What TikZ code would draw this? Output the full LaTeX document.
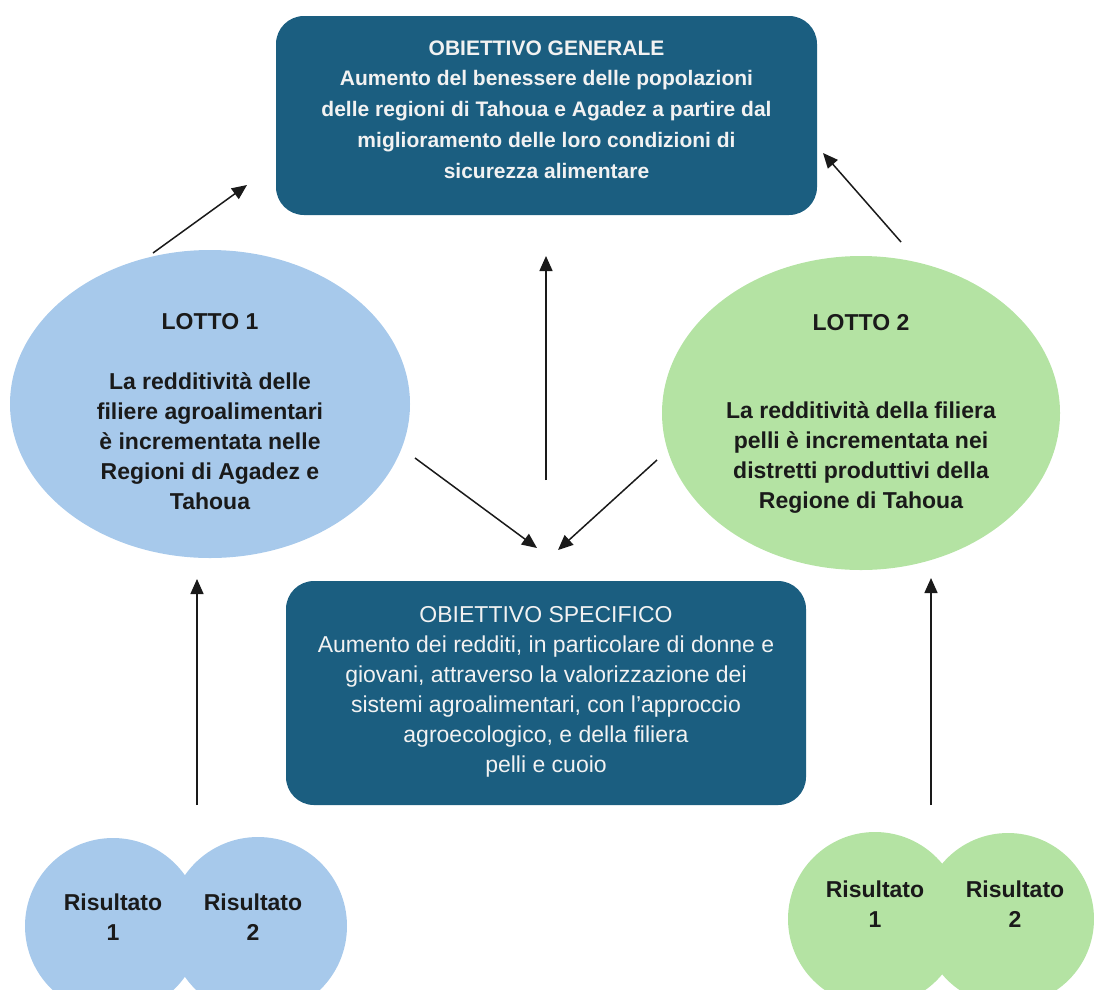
\documentclass[tikz,border=0pt]{standalone}
\usepackage{fontspec}
\setmainfont{Liberation Sans}
\usetikzlibrary{shapes.geometric,arrows.meta}
\definecolor{teal}{HTML}{1B5E80}
\definecolor{lblue}{HTML}{A7C9EB}
\definecolor{lgreen}{HTML}{B4E3A3}
\definecolor{ink}{HTML}{1A1A1A}
\tikzset{
  darkbox/.style={fill=teal, rounded corners=28pt, inner sep=0pt},
  blob/.style={ellipse, inner sep=0pt, draw=none},
  txt/.style={align=center, inner sep=0pt, text=ink, font=\bfseries\fontsize{23}{30}\selectfont},
  wtxt/.style={align=center, inner sep=0pt, text=white!95!black},
  arr/.style={line width=1.5pt, draw=ink, -{Triangle[length=15pt,width=13pt]}}
}
\begin{document}
\begin{tikzpicture}[x=1pt,y=-1pt]
\useasboundingbox (0,0) rectangle (1094,989);
\clip (0,0) rectangle (1094,989);
% top box
\node[darkbox, minimum width=541pt, minimum height=199pt] (og) at (546.5,115.5) {};
\node[wtxt, font=\bfseries\fontsize{21}{30.8}\selectfont] (ogt) at (546.5,109.5)
  {OBIETTIVO GENERALE\\Aumento del benessere delle popolazioni\\delle regioni di Tahoua e Agadez a partire dal\\miglioramento delle loro condizioni di\\sicurezza alimentare};
% ellipses
\node[blob, fill=lblue, minimum width=400pt, minimum height=308pt] (l1) at (210,404) {};
\node[txt] (l1t) at (210,412) {LOTTO 1\\[30pt]La redditività delle\\filiere agroalimentari\\è incrementata nelle\\Regioni di Agadez e\\Tahoua};
\node[blob, fill=lgreen, minimum width=398pt, minimum height=314pt] (l2) at (861,413) {};
\node[txt] (l2t) at (861,414) {LOTTO 2\\[58pt]La redditività della filiera\\pelli è incrementata nei\\distretti produttivi della\\Regione di Tahoua};
% bottom box
\node[darkbox, minimum width=520pt, minimum height=224pt] (os) at (546,693) {};
\node[wtxt, font=\fontsize{23}{30}\selectfont] (ost) at (546,692)
  {OBIETTIVO SPECIFICO\\Aumento dei redditi, in particolare di donne e\\giovani, attraverso la valorizzazione dei\\sistemi agroalimentari, con l’approccio\\agroecologico, e della filiera\\pelli e cuoio};
% results
\node[circle, fill=lblue, minimum size=176pt, inner sep=0pt] (r11) at (113,926) {};
\node[circle, fill=lblue, minimum size=178pt, inner sep=0pt] (r12) at (258,926) {};
\node[txt] (r11t) at (113,917) {Risultato\\1};
\node[txt] (r12t) at (253,917) {Risultato\\2};
\node[circle, fill=lgreen, minimum size=174pt, inner sep=0pt] (r21) at (875,919) {};
\node[circle, fill=lgreen, minimum size=172pt, inner sep=0pt] (r22) at (1008,919) {};
\node[txt] (r21t) at (875,904) {Risultato\\1};
\node[txt] (r22t) at (1015,904) {Risultato\\2};
% arrow endpoints
\coordinate (a1s) at (153,253); \coordinate (a1e) at (247,185);
\coordinate (a2s) at (901,242); \coordinate (a2e) at (823,153);
\coordinate (a3s) at (546,480); \coordinate (a3e) at (546,256);
\coordinate (a4s) at (415,458); \coordinate (a4e) at (537,548);
\coordinate (a5s) at (657,460); \coordinate (a5e) at (558,550);
\coordinate (a6s) at (197,805); \coordinate (a6e) at (197,579);
\coordinate (a7s) at (931,805); \coordinate (a7e) at (931,578);
\draw[arr] (a1s) -- (a1e);
\draw[arr] (a2s) -- (a2e);
\draw[arr] (a3s) -- (a3e);
\draw[arr] (a4s) -- (a4e);
\draw[arr] (a5s) -- (a5e);
\draw[arr] (a6s) -- (a6e);
\draw[arr] (a7s) -- (a7e);
\end{tikzpicture}
\end{document}
